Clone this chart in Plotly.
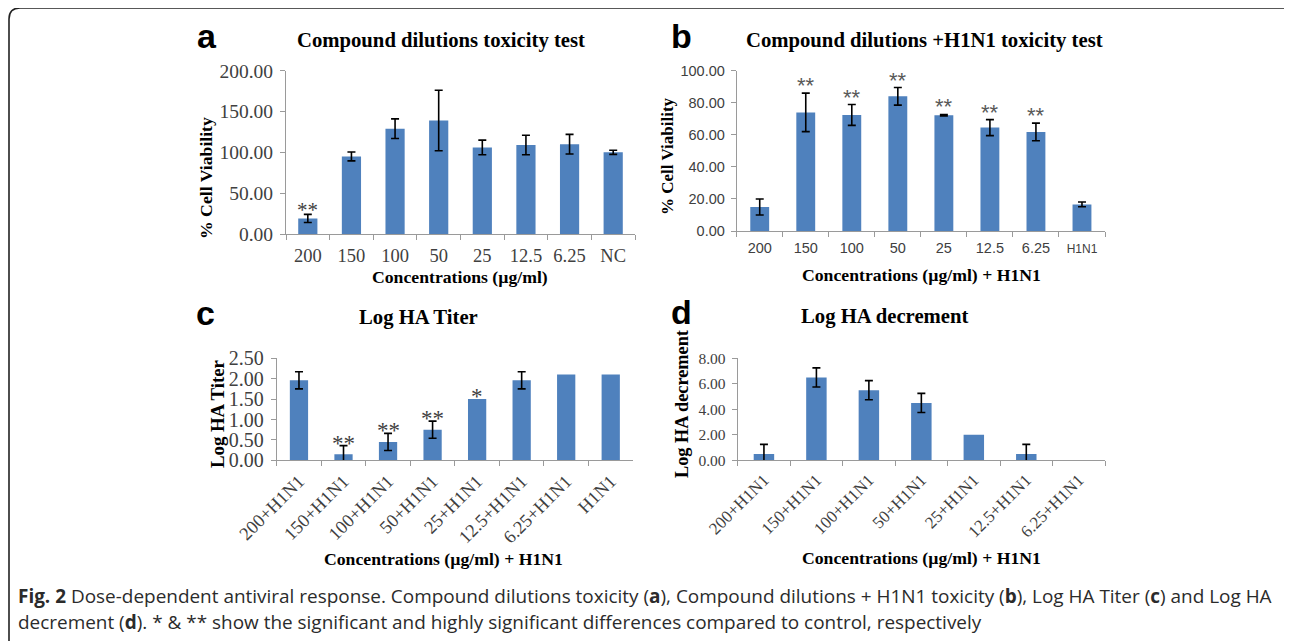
import plotly.graph_objects as go

W, H = 1292, 641
OFF_X, OFF_Y = 8, 8   # page body margin of the html page

# ---------------- data ----------------
a_categories = ["200", "150", "100", "50", "25", "12.5", "6.25", "NC"]
a_values = [19, 95, 129, 139, 106, 109, 110, 100]
a_errors = [5, 5.5, 12, 37, 9, 12, 12, 2.5]
a_marks = ["**", "", "", "", "", "", "", ""]
a_yticks = [0, 50, 100, 150, 200]

b_categories = ["200", "150", "100", "50", "25", "12.5", "6.25", "H1N1"]
b_values = [15, 74, 72.4, 84, 72.2, 64.5, 61.8, 16.6]
b_errors = [5, 12, 6.5, 5.5, 0.5, 5, 5.5, 1.5]
b_marks = ["", "**", "**", "**", "**", "**", "**", ""]
b_yticks = [0, 20, 40, 60, 80, 100]

c_categories = ["200+H1N1", "150+H1N1", "100+H1N1", "50+H1N1", "25+H1N1",
                "12.5+H1N1", "6.25+H1N1", "H1N1"]
c_values = [1.96, 0.15, 0.45, 0.75, 1.5, 1.96, 2.1, 2.1]
c_errors = [0.21, 0.21, 0.21, 0.21, None, 0.21, None, None]
c_marks = ["", "**", "**", "**", "*", "", "", ""]
c_yticks = [0, 0.5, 1.0, 1.5, 2.0, 2.5]

d_categories = ["200+H1N1", "150+H1N1", "100+H1N1", "50+H1N1", "25+H1N1",
                "12.5+H1N1", "6.25+H1N1"]
d_values = [0.5, 6.5, 5.5, 4.5, 2.0, 0.5, 0]
d_errors = [0.75, 0.75, 0.75, 0.75, None, 0.75, None]
d_marks = ["", "", "", "", "", "", ""]
d_yticks = [0, 2, 4, 6, 8]

titles = ["Compound dilutions toxicity test",
          "Compound dilutions +H1N1 toxicity test",
          "Log HA Titer",
          "Log HA decrement"]
xtitles = ["Concentrations (µg/ml)",
           "Concentrations (µg/ml) + H1N1",
           "Concentrations (µg/ml) + H1N1",
           "Concentrations (µg/ml) + H1N1"]
ytitles = ["% Cell Viability", "% Cell Viability", "Log HA Titer", "Log HA decrement"]
letters = ["a", "b", "c", "d"]

caption1 = ("<b>Fig. 2</b> Dose-dependent antiviral response. Compound dilutions toxicity "
            "(<b>a</b>), Compound dilutions + H1N1 toxicity (<b>b</b>), Log HA Titer "
            "(<b>c</b>) and Log HA")
caption2 = ("decrement (<b>d</b>). * &amp; ** show the significant and highly significant "
            "differences compared to control, respectively")

# ---------------- helpers ----------------
def px(x):
    return (x - OFF_X) / W

def py(y):
    return 1 - (y - OFF_Y) / H

SERIF = "Liberation Serif"
SANS = "Liberation Sans"
BAR = "#4F81BD"
AXC = "#9A9A9A"
TXT = "#404040"

panels = [
    dict(cats=a_categories, vals=a_values, errs=a_errors, marks=a_marks, yt=a_yticks,
         xdom=(286, 635), ydom=(70.7, 234), width=0.44,
         xfont=dict(family=SERIF, size=18.5, color=TXT),
         yfont=dict(family=SERIF, size=19.5, color=TXT), angle=0,
         markfont=dict(family=SERIF, size=21, color=TXT), mshift=-10,
         title_xy=(441, 40), xt_xy=(460, 277), yt_xy=(206, 178), yt_size=17.7,
         let_xy=(207, 36), standoff=5),
    dict(cats=b_categories, vals=b_values, errs=b_errors, marks=b_marks, yt=b_yticks,
         xdom=(736.7, 1105), ydom=(70.7, 231), width=0.41,
         xfont=dict(family=SANS, size=14.5, color=TXT),
         yfont=dict(family=SANS, size=14.5, color=TXT), angle=0,
         markfont=dict(family=SANS, size=22, color="#595959"), mshift=-7,
         title_xy=(924, 40), xt_xy=(921, 275), yt_xy=(667, 156), yt_size=17,
         let_xy=(681, 36), standoff=4),
    dict(cats=c_categories, vals=c_values, errs=c_errors, marks=c_marks, yt=c_yticks,
         xdom=(276.7, 633), ydom=(358.3, 460.3), width=0.41,
         xfont=dict(family=SERIF, size=18.4, color=TXT),
         yfont=dict(family=SERIF, size=20, color=TXT), angle=-45,
         markfont=dict(family=SERIF, size=23, color=TXT), mshift=-12,
         title_xy=(418, 318), xt_xy=(443, 559), yt_xy=(217, 414), yt_size=18.8,
         let_xy=(205, 313), standoff=2),
    dict(cats=d_categories, vals=d_values, errs=d_errors, marks=d_marks, yt=d_yticks,
         xdom=(737.7, 1105), ydom=(358.3, 460.3), width=0.39,
         xfont=dict(family=SERIF, size=17, color=TXT),
         yfont=dict(family=SERIF, size=15.5, color=TXT), angle=-45,
         markfont=dict(family=SERIF, size=23, color=TXT), mshift=-12,
         title_xy=(885, 317), xt_xy=(922, 558), yt_xy=(682, 404), yt_size=18.3,
         let_xy=(681, 312), standoff=2),
]

fig = go.Figure()
annotations = []

def ann(x, y, text, font, **kw):
    d = dict(x=px(x), y=py(y), xref="paper", yref="paper", text=text, showarrow=False,
             xanchor="center", yanchor="middle", font=font)
    d.update(kw)
    annotations.append(d)

for i, p in enumerate(panels):
    n = "" if i == 0 else str(i + 1)
    xa, ya = "x" + n, "y" + n
    fig.add_trace(go.Bar(
        x=p["cats"], y=p["vals"], xaxis=xa, yaxis=ya, width=p["width"],
        marker=dict(color=BAR, line=dict(width=0)),
        showlegend=False, hoverinfo="x+y",
    ))
    # error bars only where the reference shows them
    ex = [c for c, e in zip(p["cats"], p["errs"]) if e is not None]
    ev = [v for v, e in zip(p["vals"], p["errs"]) if e is not None]
    ee = [e for e in p["errs"] if e is not None]
    fig.add_trace(go.Scatter(
        x=ex, y=ev, xaxis=xa, yaxis=ya, mode="markers",
        marker=dict(size=1, color="rgba(0,0,0,0)"),
        error_y=dict(type="data", array=ee, visible=True, color="black",
                     thickness=1.6, width=4),
        showlegend=False, hoverinfo="skip", cliponaxis=True,
    ))
    yt = p["yt"]
    xaxis = dict(
        domain=[px(p["xdom"][0]), px(p["xdom"][1])], anchor=ya, type="category",
        categoryorder="array", categoryarray=p["cats"], range=[-0.5, len(p["cats"]) - 0.5],
        showline=True, linecolor=AXC, linewidth=1, ticks="outside", tickson="boundaries",
        ticklen=5, tickcolor=AXC, tickfont=p["xfont"], tickangle=p["angle"],
        showgrid=False, zeroline=False, fixedrange=True, automargin=False,
        ticklabelstandoff=p["standoff"],
    )
    yaxis = dict(
        domain=[py(p["ydom"][1]), py(p["ydom"][0])], anchor=xa,
        range=[yt[0], yt[-1]], tickvals=yt, ticktext=["{:.2f}".format(v) for v in yt],
        showline=True, linecolor=AXC, linewidth=1, ticks="outside", ticklen=5,
        tickcolor=AXC, tickfont=p["yfont"], showgrid=False, zeroline=False,
        fixedrange=True, ticklabelstandoff=3, automargin=False,
    )
    if i == 1:
        xaxis["tickvals"] = p["cats"]
        xaxis["ticktext"] = [c if c != "H1N1" else "<span style='font-size:12px'>H1N1</span>"
                             for c in p["cats"]]
    fig.layout["xaxis" + n] = xaxis
    fig.layout["yaxis" + n] = yaxis

    # significance marks (category index positions on the category axis)
    for k, (v, e, m) in enumerate(zip(p["vals"], p["errs"], p["marks"])):
        if m:
            annotations.append(dict(
                x=k, y=v + (e or 0), xref=xa, yref=ya, text=m, showarrow=False,
                xanchor="center", yanchor="bottom", yshift=p["mshift"], font=p["markfont"]))

    ann(*p["title_xy"], "<b>" + titles[i] + "</b>", dict(family=SERIF, size=20.7, color="black"))
    ann(*p["xt_xy"], "<b>" + xtitles[i] + "</b>", dict(family=SERIF, size=17.7, color="black"))
    ann(*p["yt_xy"], "<b>" + ytitles[i] + "</b>",
        dict(family=SERIF, size=p["yt_size"], color="black"), textangle=-90)
    ann(*p["let_xy"], "<b>" + letters[i] + "</b>", dict(family=SANS, size=34, color="black"))

# caption
CAP = dict(family="Open Sans", size=18.95, color="#2b2b2b")
ann(16, 596, caption1, CAP, xanchor="left")
ann(16, 622, caption2, CAP, xanchor="left")

# rounded frame
x0, y0, x1, y1, r = 9, 8, 1297, 646, 11
path = (f"M {px(x0)},{py(y1)} L {px(x0)},{py(y0 + r)} "
        f"Q {px(x0)},{py(y0)} {px(x0 + r)},{py(y0)} "
        f"L {px(x1 - r)},{py(y0)} Q {px(x1)},{py(y0)} {px(x1)},{py(y0 + r)} "
        f"L {px(x1)},{py(y1)}")
fig.add_shape(type="path", path=path, xref="paper", yref="paper",
              line=dict(color="#222222", width=1.6))

fig.update_layout(
    width=W, height=H, margin=dict(l=0, r=0, t=0, b=0, pad=0, autoexpand=False),
    paper_bgcolor="white", plot_bgcolor="white",
    annotations=annotations,
)

fig.write_html("out.html")
